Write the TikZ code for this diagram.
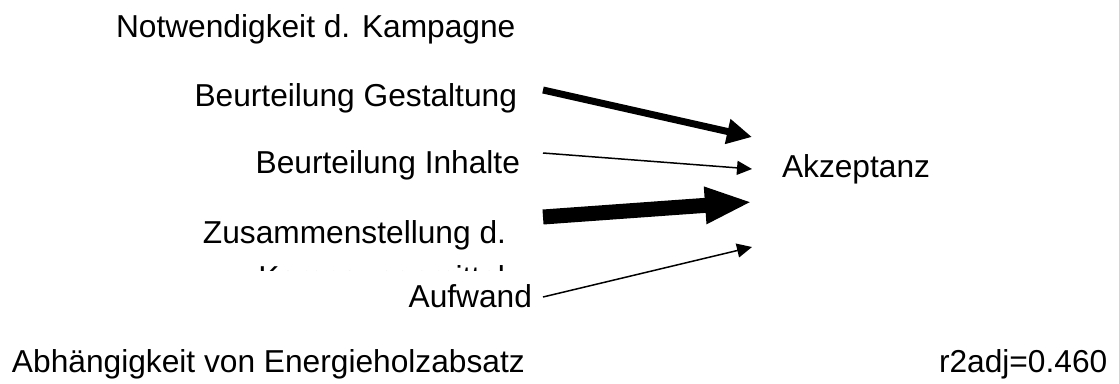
\documentclass[tikz,border=0pt]{standalone}
\usepackage{fontspec}
\setmainfont{Liberation Sans}
\usetikzlibrary{arrows.meta}
\tikzset{
  lbl/.style={inner sep=0pt, outer sep=0pt, font=\fontsize{31.7}{36.5}\selectfont},
  conn/.style={draw=black, line cap=butt},
}
\begin{document}
\begin{tikzpicture}[x=1pt, y=-1pt]
\useasboundingbox (0,0) rectangle (1119,383);
% labels
\node[lbl, anchor=base west] (notw) at (116,37) {Notwendigkeit d. Kampagne};
\node[lbl, anchor=base east] (gest) at (517,106) {Beurteilung Gestaltung};
\node[lbl, anchor=base east] (inh) at (520,173) {Beurteilung Inhalte};
\node[lbl, anchor=base east] (zus) at (506,243) {Zusammenstellung d.};
\begin{scope}
  \clip (0,0) rectangle (1119,270.5);
  \node[lbl, anchor=base east] (zus2) at (505,288.5) {Kampagnenmittel};
\end{scope}
\node[lbl, anchor=base east] (aufw) at (532,307) {Aufwand};
\node[lbl, anchor=base west] (akz) at (782,177) {Akzeptanz};
\node[lbl, anchor=base west] (abh) at (12,372) {Abhängigkeit von Energieholzabsatz};
\node[lbl, anchor=base west] (r2) at (939,372) {r2adj=0.460};
% arrow end points
\coordinate (gs) at (543,90);  \coordinate (ge) at (752,137);
\coordinate (is) at (543,153); \coordinate (ie) at (752,169);
\coordinate (zs) at (543,217); \coordinate (ze) at (752,202);
\coordinate (as) at (543,297); \coordinate (ae) at (752,247);
% arrows
\draw[conn, line width=7pt, -{Triangle[length=25pt, width=24pt]}] (gs) -- (ge);
\draw[conn, line width=1.5pt, -{Triangle[length=15pt, width=14pt]}] (is) -- (ie);
\draw[conn, line width=15pt, -{Triangle[length=47pt, width=34pt]}] (zs) -- (ze);
\draw[conn, line width=1.5pt, -{Triangle[length=15pt, width=14pt]}] (as) -- (ae);
\end{tikzpicture}
\end{document}
